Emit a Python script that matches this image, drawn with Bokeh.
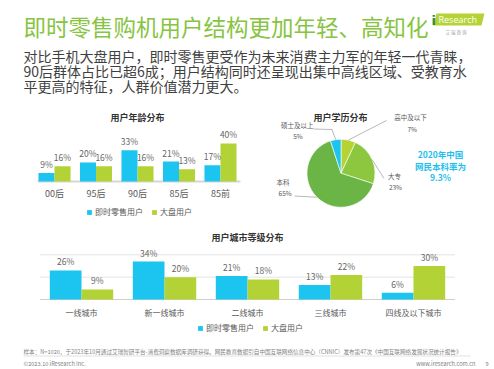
import math
import numpy as np
from bokeh.plotting import figure
from bokeh.models import Range1d, FactorRange, ColumnDataSource, Legend, LegendItem
from bokeh.transform import dodge
from bokeh.layouts import column, row
from bokeh.embed import file_html
from bokeh.resources import INLINE
from bokeh.core.properties import value

FONT = "Noto Sans CJK SC"
CYAN = "#1CC4F0"
LIME = "#B3D235"
GRAY = "#595959"

# ---------------- data ----------------
title_text = "即时零售购机用户结构更加年轻、高知化"
subtitle_lines = [
    "对比手机大盘用户，即时零售更受作为未来消费主力军的年轻一代青睐，",
    "90后群体占比已超6成；用户结构同时还呈现出集中高线区域、受教育水",
    "平更高的特征，人群价值潜力更大。",
]
series_names = ["即时零售用户", "大盘用户"]

age_title = "用户年龄分布"
age_cats = ["00后", "95后", "90后", "85后", "85前"]
age_instant = [9, 20, 33, 21, 17]
age_market = [16, 16, 16, 13, 40]

edu_title = "用户学历分布"
edu_cats = ["高中及以下", "大专", "本科", "硕士及以上"]
edu_share = [7, 23, 65, 5]
edu_colors = ["#B5D334", "#8DC63F", "#6BB446", "#1CC4F0"]
edu_note = ["2020年中国", "网民本科率为", "9.3%"]

city_title = "用户城市等级分布"
city_cats = ["一线城市", "新一线城市", "二线城市", "三线城市", "四线及以下城市"]
city_instant = [26, 34, 21, 13, 6]
city_market = [9, 20, 18, 22, 30]

note_text = ("样本：N=1020，于2023年10月通过艾瑞智研平台-消费洞察数据库调研获得。"
             "网民教育数据引自中国互联网络信息中心（CNNIC）发布第47次《中国互联网络发展状况统计报告》")
copyright_text = "©2023.10 iResearch Inc."
site_text = "www.iresearch.com.cn"
page_no = "9"


def base_fig(w, h, xr, yr):
    p = figure(width=w, height=h, x_range=xr, y_range=yr, output_backend="svg",
               toolbar_location=None, x_axis_location=None, y_axis_location=None,
               min_border=0)
    p.grid.visible = False
    p.outline_line_color = None
    p.background_fill_color = "white"
    p.border_fill_color = "white"
    return p


def make_legend(r1, r2, loc):
    lg = Legend(items=[LegendItem(label=series_names[0], renderers=[r1]),
                       LegendItem(label=series_names[1], renderers=[r2])],
                location=loc, orientation="horizontal", glyph_width=6, glyph_height=6,
                label_text_font_size="8px", label_text_font=FONT, label_text_color=GRAY,
                label_standoff=3, spacing=8, padding=0, margin=0, label_height=8,
                border_line_color=None, background_fill_alpha=0)
    return lg


# ---------------- header ----------------
W = 494
hdr = base_fig(W, 103, Range1d(0, W), Range1d(103, 0))
hdr.text(x=[23], y=[25], text=[title_text], text_font=value(FONT), text_font_size="22.5px",
         text_color="#86C441", text_baseline="middle")
hdr.text(x=[23] * 3, y=[55, 70, 85], text=subtitle_lines, text_font=value(FONT),
         text_font_size="14px", text_color="#3F3F3F", text_baseline="middle")
hdr.patch(x=[436, 484, 481, 433], y=[13, 13, 25, 25], fill_color="#B5D334", line_color=None)
hdr.text(x=[431], y=[19.5], text=["i"], text_font=value("DejaVu Sans"), text_font_size="13px",
         text_font_style="bold", text_color="#2F8A45", text_baseline="middle")
hdr.text(x=[438], y=[19], text=["Research"], text_font=value("Open Sans"), text_font_size="9px",
         text_color="white", text_baseline="middle")
hdr.text(x=[457], y=[31.5], text=["艾  瑞  咨  询"], text_font=value(FONT), text_font_size="4.5px",
         text_color="#9A9A9A", text_baseline="middle", text_align="center")

# ---------------- age chart ----------------
age_src = ColumnDataSource(dict(cat=age_cats, inst=age_instant, mkt=age_market,
                                inst_lbl=[f"{v}%" for v in age_instant],
                                mkt_lbl=[f"{v}%" for v in age_market]))
age_x = FactorRange(*age_cats, range_padding=0.801, range_padding_units="absolute")
age = base_fig(274, 119, age_x, Range1d(-43.2, 82.1))
age.segment(x0=[0.09], x1=[4.98], y0=[0], y1=[0], line_color="#D6D6D6", line_width=2)
ra1 = age.vbar(x=dodge("cat", -0.193, range=age.x_range), top="inst", width=0.386,
               fill_color=CYAN, line_color=None, source=age_src)
ra2 = age.vbar(x=dodge("cat", 0.193, range=age.x_range), top="mkt", width=0.386,
               fill_color=LIME, line_color=None, source=age_src)
age.text(x=dodge("cat", -0.193, range=age.x_range), y="inst", text="inst_lbl", source=age_src,
         text_align="center", text_baseline="bottom", y_offset=-3, text_font=value(FONT),
         text_font_size="8.5px", text_color="#666666")
age.text(x=dodge("cat", 0.193, range=age.x_range), y="mkt", text="mkt_lbl", source=age_src,
         text_align="center", text_baseline="bottom", y_offset=-3, text_font=value(FONT),
         text_font_size="8.5px", text_color="#666666")
age.text(x="cat", y=0, text="cat", source=age_src, y_offset=12, text_align="center",
         text_baseline="middle", text_font=value(FONT), text_font_size="9px", text_color=GRAY)
age.text(x=[age_cats[2]], y=[67.4], text=[age_title], text_align="center", text_baseline="middle",
         text_font=value(FONT), text_font_size="9px", text_font_style="bold", text_color="#333333")
age.add_layout(make_legend(ra1, ra2, (86, 5)))

# ---------------- education pie ----------------
pie = base_fig(220, 119, Range1d(0, 220), Range1d(0, 119))
cum = np.cumsum([0] + edu_share) / float(sum(edu_share))
starts = [math.pi / 2 - 2 * math.pi * c for c in cum[:-1]]
ends = [math.pi / 2 - 2 * math.pi * c for c in cum[1:]]
CX, CY, R = 66.5, 49.3, 34
pie_src = ColumnDataSource(dict(start=starts, end=ends, color=edu_colors, cat=edu_cats))
pie.wedge(x=CX, y=CY, radius=R, start_angle="start", end_angle="end", direction="clock",
          fill_color="color", line_color="white", line_width=0.6, source=pie_src)
mids = [(s + e) / 2 for s, e in zip(starts, ends)]
edge = [(CX + R * math.cos(m), CY + R * math.sin(m)) for m in mids]
lead_x = [[edge[0][0], 112], [edge[1][0], 109.5], [20, edge[2][0]], [39, 57.5, edge[3][0]]]
lead_y = [[edge[0][1], 102], [edge[1][1], 44], [26.5, edge[2][1]], [93.5, 93, edge[3][1]]]
pie.multi_line(xs=lead_x, ys=lead_y, line_color="#A6A6A6", line_width=0.8)
name_x = [136, 120, 8.5, 22.7]
name_y = [105.3, 47, 41, 97.7]
pct_x = [137.7, 121, 10.7, 23.5]
pct_y = [93.3, 36, 29.7, 86.3]
pie.text(x=name_x, y=name_y, text=edu_cats, text_align="center", text_baseline="middle",
         text_font=value(FONT), text_font_size="6.5px", text_color=GRAY)
pie.text(x=pct_x, y=pct_y, text=[f"{v}%" for v in edu_share], text_align="center",
         text_baseline="middle", text_font=value(FONT), text_font_size="6.5px", text_color=GRAY)
pie.text(x=[66], y=[105.3], text=[edu_title], text_align="center", text_baseline="middle",
         text_font=value(FONT), text_font_size="9px", text_font_style="bold", text_color="#333333")
pie.text(x=[166] * 3, y=[68.7, 57, 45.5], text=edu_note, text_align="center",
         text_baseline="middle", text_font=value(FONT), text_font_size="8.5px",
         text_font_style="bold", text_color="#20BFEE")

# ---------------- city chart ----------------
city_src = ColumnDataSource(dict(cat=city_cats, inst=city_instant, mkt=city_market,
                                 inst_lbl=[f"{v}%" for v in city_instant],
                                 mkt_lbl=[f"{v}%" for v in city_market]))
city_x = FactorRange(*city_cats, range_padding=0.476, range_padding_units="absolute")
city = base_fig(W, 113, city_x, Range1d(-32.2, 68.9))
city.segment(x0=[0, 0], x1=[5, 5], y0=[20, 40], y1=[20, 40], line_color="#E4E4E4", line_width=1)
city.segment(x0=[0], x1=[5], y0=[0], y1=[0], line_color="#CFCFCF", line_width=1.2)
rc1 = city.vbar(x=dodge("cat", -0.191, range=city.x_range), top="inst", width=0.382,
                fill_color=CYAN, line_color=None, source=city_src)
rc2 = city.vbar(x=dodge("cat", 0.191, range=city.x_range), top="mkt", width=0.382,
                fill_color=LIME, line_color=None, source=city_src)
city.text(x=dodge("cat", -0.191, range=city.x_range), y="inst", text="inst_lbl", source=city_src,
          text_align="center", text_baseline="bottom", y_offset=-3, text_font=value(FONT),
          text_font_size="8.5px", text_color="#666666")
city.text(x=dodge("cat", 0.191, range=city.x_range), y="mkt", text="mkt_lbl", source=city_src,
          text_align="center", text_baseline="bottom", y_offset=-3, text_font=value(FONT),
          text_font_size="8.5px", text_color="#666666")
city.text(x="cat", y=0, text="cat", source=city_src, y_offset=12.7, text_align="center",
          text_baseline="middle", text_font=value(FONT), text_font_size="8px", text_color=GRAY)
city.text(x=[city_cats[2]], y=[55.2], text=[city_title], text_align="center", text_baseline="middle",
          text_font=value(FONT), text_font_size="9px", text_font_style="bold", text_color="#333333")
city.add_layout(make_legend(rc1, rc2, (197, 2)))

# ---------------- footer ----------------
ftr = base_fig(W, 34, Range1d(0, W), Range1d(34, 0))
ftr.text(x=[23], y=[16.7], text=[note_text], text_font=value(FONT), text_font_size="5.6px",
         text_color="#7F7F7F", text_baseline="middle")
ftr.segment(x0=[23], x1=[470], y0=[20.5], y1=[20.5], line_color="#D9D9D9", line_width=0.8)
ftr.text(x=[23], y=[28.3], text=[copyright_text], text_font=value(FONT), text_font_size="5.6px",
         text_color="#7F7F7F", text_baseline="middle")
ftr.text(x=[475], y=[28.3], text=[site_text], text_font=value(FONT), text_font_size="5.6px",
         text_color="#7F7F7F", text_baseline="middle", text_align="right")
ftr.text(x=[488], y=[28.3], text=[page_no], text_font=value(FONT), text_font_size="5.6px",
         text_color="#7F7F7F", text_baseline="middle", text_align="right")

layout = column(hdr, row(age, pie, spacing=0), city, ftr, spacing=0)
open("out.html", "w").write(file_html(layout, INLINE))
